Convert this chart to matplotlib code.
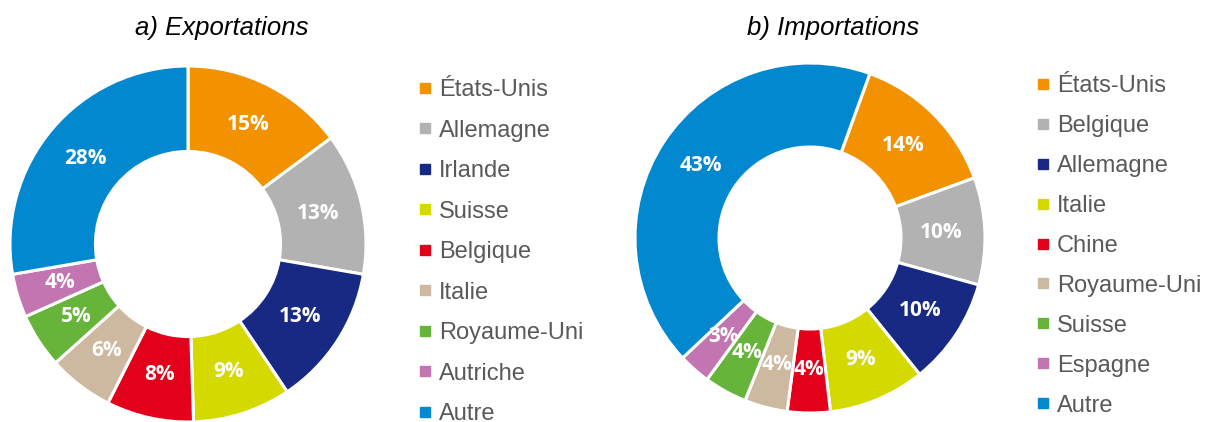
import math
import matplotlib
matplotlib.use("Agg")
from matplotlib import pyplot as plt
from matplotlib.lines import Line2D

# Exportations
exp_labels = ["États-Unis", "Allemagne", "Irlande", "Suisse", "Belgique",
              "Italie", "Royaume-Uni", "Autriche", "Autre"]
exp_values = [15, 13, 13, 9, 8, 6, 5, 4, 28]

# Importations
imp_labels = ["États-Unis", "Belgique", "Allemagne", "Italie", "Chine",
              "Royaume-Uni", "Suisse", "Espagne", "Autre"]
imp_values = [14, 10, 10, 9, 4, 4, 4, 3, 43]

colors = ["#F39200", "#B2B2B2", "#172983", "#D4D900", "#E2001A",
          "#CDB9A0", "#66B43A", "#C275B0", "#0288CE"]

W, H = 1207, 422
fig = plt.figure(figsize=(W / 100, H / 100), dpi=100)


def donut(cx, cy, r, values, start):
    # cx, cy, r in pixels (y from top)
    ax = fig.add_axes([(cx - r) / W, (H - cy - r) / H, 2 * r / W, 2 * r / H])
    ax.pie(values, colors=colors, startangle=start, counterclock=False,
           radius=1.0, wedgeprops=dict(width=0.48, edgecolor="white", linewidth=2.2))
    total = sum(values)
    acc = 0
    for v in values:
        mid = start - (acc + v / 2) / total * 360
        acc += v
        x = 0.75 * math.cos(math.radians(mid))
        y = 0.75 * math.sin(math.radians(mid))
        ax.text(x, y, f"{v}%", ha="center", va="center", color="white",
                fontsize=15, fontweight="bold", family="Open Sans")
    ax.set_xlim(-1, 1)
    ax.set_ylim(-1, 1)
    ax.set_aspect("equal")
    ax.axis("off")
    return ax


donut(188, 244, 178, exp_values, 90)
donut(810, 238, 175, imp_values, 70)

fig.text(222 / W, 1 - 28 / H, "a) Exportations", ha="center", va="center",
         fontsize=18.5, style="italic", family="Liberation Sans", color="black")
fig.text(833 / W, 1 - 28 / H, "b) Importations", ha="center", va="center",
         fontsize=18.5, style="italic", family="Liberation Sans", color="black")


def legend(x, y, labels, spacing):
    handles = [Line2D([], [], marker="s", linestyle="none", markersize=6.5,
                      markerfacecolor=c, markeredgecolor=c) for c in colors]
    fig.legend(handles, labels, loc="upper left", bbox_to_anchor=(x / W, 1 - y / H),
               frameon=False, labelspacing=spacing, handlelength=0.5, handletextpad=0.35,
               borderpad=0, borderaxespad=0,
               prop=dict(family="Liberation Sans", size=17), labelcolor="#595959")


legend(419, 79, exp_labels, 0.785)
legend(1037, 75, imp_labels, 0.76)

fig.savefig("out.png", dpi=100, facecolor="white")
